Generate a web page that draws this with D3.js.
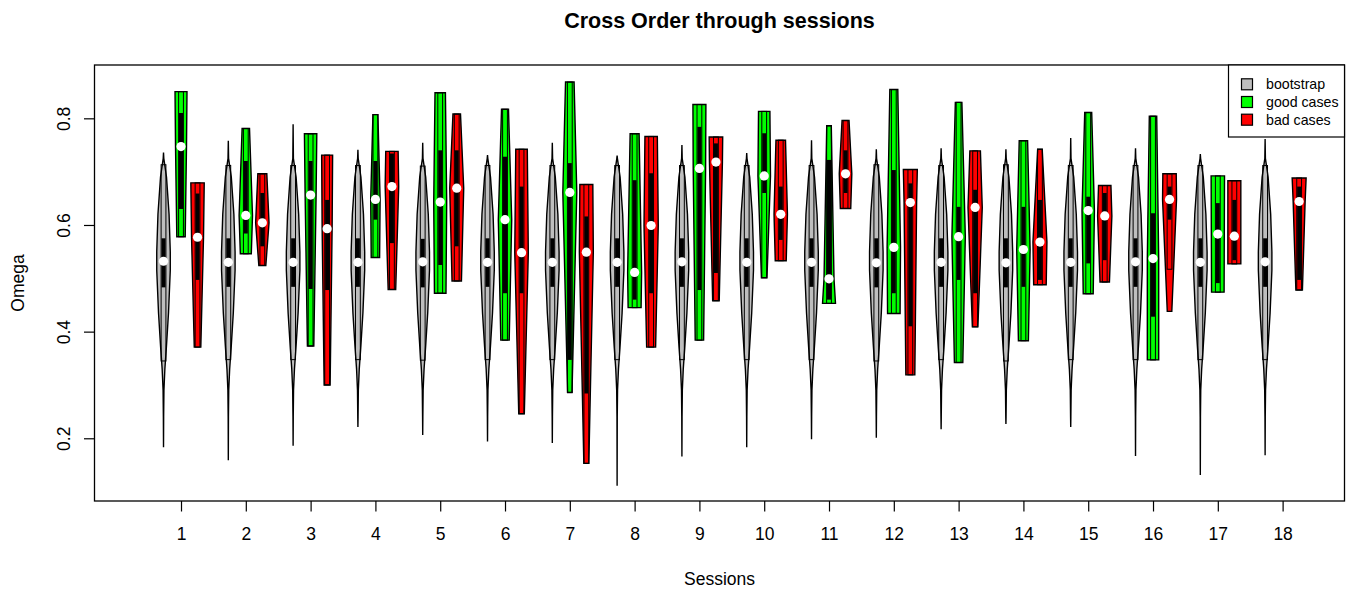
<!DOCTYPE html>
<html>
<head>
<meta charset="utf-8">
<script src="https://cdn.jsdelivr.net/npm/d3@7"></script>
<style>
  html, body { margin: 0; padding: 0; background: #ffffff; }
  svg { display: block; font-family: "Liberation Sans", Arial, sans-serif; }
</style>
</head>
<body>
<script>
// Omega per session for three groups, drawn as R-style violins.

const sessionLabels = ["1","2","3","4","5","6","7","8","9","10","11","12","13","14","15","16","17","18"];
const groupNames = ["bootstrap", "good cases", "bad cases"];

// bootstrap distribution per session
const bootMax    = [0.736,0.758,0.789,0.741,0.754,0.731,0.754,0.730,0.750,0.735,0.759,0.742,0.744,0.742,0.763,0.744,0.733,0.761];
const bootMin    = [0.183,0.159,0.186,0.221,0.206,0.194,0.191,0.111,0.166,0.183,0.198,0.201,0.217,0.227,0.221,0.167,0.131,0.168];
const bootMedian = [0.532,0.530,0.530,0.530,0.531,0.530,0.530,0.530,0.531,0.530,0.530,0.529,0.530,0.529,0.530,0.531,0.530,0.531];
const bootQ1     = [0.483,0.484,0.484,0.484,0.483,0.484,0.484,0.484,0.484,0.484,0.484,0.483,0.484,0.483,0.484,0.484,0.484,0.484];
const bootQ3     = [0.575,0.575,0.575,0.575,0.574,0.575,0.575,0.575,0.575,0.575,0.575,0.575,0.575,0.575,0.575,0.575,0.575,0.575];
// shared bootstrap density shape: [omega, relative density]
const bootDensity = [
  [0.725,0.04],[0.69,0.42],[0.62,0.78],[0.55,0.95],[0.515,0.95],
  [0.435,0.70],[0.37,0.40],[0.33,0.19],[0.29,0.06],[0.24,0.02]
];

// good cases (no data in session 18)
const goodMax    = [0.850,0.781,0.771,0.807,0.848,0.817,0.868,0.771,0.826,0.813,0.786,0.854,0.830,0.758,0.811,0.804,0.692,null];
const goodMin    = [0.578,0.546,0.373,0.539,0.472,0.384,0.286,0.445,0.384,0.501,0.453,0.434,0.342,0.383,0.471,0.347,0.474,null];
const goodMedian = [0.747,0.618,0.656,0.648,0.643,0.610,0.661,0.511,0.706,0.692,0.499,0.558,0.578,0.554,0.627,0.537,0.583,null];
const goodQ1     = [0.630,0.584,0.480,0.610,0.525,0.472,0.347,0.460,0.478,0.660,0.460,0.472,0.497,0.484,0.528,0.428,0.491,null];
const goodQ3     = [0.810,0.720,0.720,0.720,0.740,0.728,0.716,0.684,0.784,0.772,0.722,0.703,0.634,0.634,0.653,0.622,0.641,null];
// relative density at [max, median, min]
const goodDensity = [
  [0.84,0.77,0.59],[0.52,0.94,0.77],[0.87,0.77,0.45],[0.35,0.66,0.59],[0.73,0.91,0.81],
  [0.49,0.94,0.59],[0.60,0.98,0.31],[0.63,0.98,0.91],[0.91,0.87,0.59],[0.80,0.88,0.39],
  [0.32,0.70,0.91],[0.56,0.94,0.88],[0.46,0.94,0.59],[0.59,0.94,0.70],[0.49,0.87,0.70],
  [0.52,0.80,0.80],[0.94,0.91,0.88],null
];

// bad cases
const badMax    = [0.679,0.696,0.731,0.738,0.808,0.742,0.676,0.766,0.765,0.759,0.796,0.704,0.739,0.742,0.674,0.696,0.683,0.688];
const badMin    = [0.371,0.524,0.300,0.479,0.495,0.246,0.153,0.371,0.458,0.533,0.631,0.319,0.409,0.488,0.493,0.438,0.527,0.478];
const badMedian = [0.577,0.604,0.593,0.672,0.669,0.548,0.549,0.599,0.718,0.620,0.696,0.642,0.633,0.568,0.617,0.648,0.579,0.644];
const badQ1     = [0.497,0.560,0.478,0.566,0.560,0.472,0.284,0.472,0.510,0.572,0.660,0.410,0.472,0.497,0.534,0.610,0.534,0.497];
const badQ3     = [0.659,0.660,0.647,0.734,0.740,0.672,0.616,0.697,0.753,0.672,0.740,0.678,0.666,0.647,0.660,0.672,0.647,0.672];
const badDensity = [
  [0.94,0.84,0.46],[0.63,0.94,0.49],[0.77,0.70,0.42],[0.87,0.95,0.53],[0.53,0.98,0.66],
  [0.81,0.95,0.39],[0.91,0.98,0.35],[0.87,1.00,0.63],[0.95,0.91,0.46],[0.67,0.94,0.77],
  [0.49,0.88,0.73],[0.98,0.88,0.63],[0.74,1.00,0.39],[0.32,0.98,0.88],[0.87,1.00,0.66],
  [0.94,0.98,0.32],[0.91,0.91,0.91],[0.98,0.84,0.46]
];

const yTicks = [0.2, 0.4, 0.6, 0.8];

// ---- layout ----
const W = 1351, H = 597;
const plot = { left: 94.5, right: 1344.5, top: 65, bottom: 501 };
const colors = ["#BEBEBE", "#00FF00", "#FF0000"];
const offsets = [-0.27, 0, 0.255];   // position of each group around a session
const wex = 0.11;                      // half width (session units) at density 1

const svg = d3.select("body").append("svg").attr("width", W).attr("height", H);

const x = d3.scaleLinear().domain([-0.335, 18.955]).range([plot.left, plot.right]);
const y = d3.scaleLinear().domain([0.0824, 0.9]).range([plot.bottom, plot.top]);

function buildGroup(i, g) {
  if (g === 0) {
    const pts = [[bootMax[i], 0]]
      .concat(bootDensity.filter(p => p[0] < bootMax[i] && p[0] > bootMin[i]))
      .concat([[bootMin[i], 0]]);
    return { max: bootMax[i], min: bootMin[i], med: bootMedian[i], q1: bootQ1[i], q3: bootQ3[i], pts };
  }
  const mx = g === 1 ? goodMax : badMax, mn = g === 1 ? goodMin : badMin;
  const md = g === 1 ? goodMedian : badMedian;
  const q1 = g === 1 ? goodQ1 : badQ1, q3 = g === 1 ? goodQ3 : badQ3;
  const dn = g === 1 ? goodDensity : badDensity;
  if (mx[i] == null) return null;
  const pts = [[mx[i], dn[i][0]], [md[i], dn[i][1]], [mn[i], dn[i][2]]];
  return { max: mx[i], min: mn[i], med: md[i], q1: q1[i], q3: q3[i], pts };
}

const violins = [];
sessionLabels.forEach((lab, i) => {
  [0, 1, 2].forEach(g => {
    const v = buildGroup(i, g);
    if (v) violins.push(Object.assign(v, { center: i + 1 + offsets[g], group: g }));
  });
});

const area = d3.area()
  .curve(d3.curveLinear);

const layer = svg.append("g");
violins.forEach(v => {
  const iqr = v.q3 - v.q1;
  const lo = Math.max(v.min, v.q1 - 1.5 * iqr);
  const hi = Math.min(v.max, v.q3 + 1.5 * iqr);
  const cx = x(v.center);
  const g = layer.append("g");

  g.append("path")
    .datum(v.pts)
    .attr("d", area
      .y(d => y(d[0]))
      .x0(d => x(v.center - d[1] * wex))
      .x1(d => x(v.center + d[1] * wex)))
    .attr("fill", colors[v.group])
    .attr("stroke", "#000")
    .attr("stroke-width", 1.4)
    .attr("stroke-linejoin", "miter");

  // whisker
  g.append("rect")
    .attr("x", cx - 2.4).attr("width", 4.8)
    .attr("y", y(hi)).attr("height", y(lo) - y(hi))
    .attr("fill", "none").attr("stroke", "#000").attr("stroke-width", 1);

  // interquartile box
  g.append("rect")
    .attr("x", cx - 2).attr("width", 4)
    .attr("y", y(v.q3)).attr("height", y(v.q1) - y(v.q3))
    .attr("fill", "#000");

  // median
  g.append("circle")
    .attr("cx", cx).attr("cy", y(v.med)).attr("r", 4.6)
    .attr("fill", "#fff");
});

// ---- axes ----
const xAxis = svg.append("g")
  .attr("transform", `translate(0,${plot.bottom})`)
  .call(d3.axisBottom(x)
    .tickValues(d3.range(1, sessionLabels.length + 1))
    .tickFormat((d, i) => sessionLabels[i])
    .tickSize(10.5)
    .tickPadding(16.5));
xAxis.select(".domain").remove();
xAxis.selectAll("line").attr("stroke", "#000").attr("stroke-width", 1.2);
xAxis.selectAll("text").attr("font-size", 17.5).attr("fill", "#000")
  .attr("font-family", "'Liberation Sans', Arial, sans-serif");

const yAxis = svg.append("g")
  .attr("transform", `translate(${plot.left},0)`)
  .call(d3.axisLeft(y).tickValues(yTicks).tickFormat(d3.format(".1f")).tickSize(10.5));
yAxis.select(".domain").remove();
yAxis.selectAll("line").attr("stroke", "#000").attr("stroke-width", 1.2);
yAxis.selectAll("text")
  .attr("x", null).attr("dy", null)
  .attr("text-anchor", "middle")
  .attr("transform", "translate(-24.5,0) rotate(-90)")
  .attr("font-size", 17.5).attr("fill", "#000")
  .attr("font-family", "'Liberation Sans', Arial, sans-serif");

// plot frame
svg.append("rect")
  .attr("x", plot.left).attr("y", plot.top)
  .attr("width", plot.right - plot.left).attr("height", plot.bottom - plot.top)
  .attr("fill", "none").attr("stroke", "#000").attr("stroke-width", 1.3);

// titles
svg.append("text")
  .attr("x", (plot.left + plot.right) / 2).attr("y", 28)
  .attr("text-anchor", "middle").attr("font-weight", "bold").attr("font-size", 21.5)
  .text("Cross Order through sessions");

svg.append("text")
  .attr("x", (plot.left + plot.right) / 2).attr("y", 585)
  .attr("text-anchor", "middle").attr("font-size", 17.5)
  .text("Sessions");

svg.append("text")
  .attr("transform", `translate(24,${(plot.top + plot.bottom) / 2}) rotate(-90)`)
  .attr("text-anchor", "middle").attr("font-size", 17.5)
  .text("Omega");

// legend
const legend = svg.append("g");
legend.append("rect")
  .attr("x", 1228.5).attr("y", plot.top)
  .attr("width", plot.right - 1228.5).attr("height", 72)
  .attr("fill", "#fff").attr("stroke", "#000").attr("stroke-width", 1.2);
groupNames.forEach((name, i) => {
  const cy = 84.3 + i * 17.7;
  legend.append("rect")
    .attr("x", 1241.5).attr("y", cy - 5.5).attr("width", 11).attr("height", 11)
    .attr("fill", colors[i]).attr("stroke", "#000").attr("stroke-width", 1.2);
  legend.append("text")
    .attr("x", 1266).attr("y", cy).attr("dy", "0.35em")
    .attr("font-size", 14.2)
    .text(name);
});
</script>
</body>
</html>
